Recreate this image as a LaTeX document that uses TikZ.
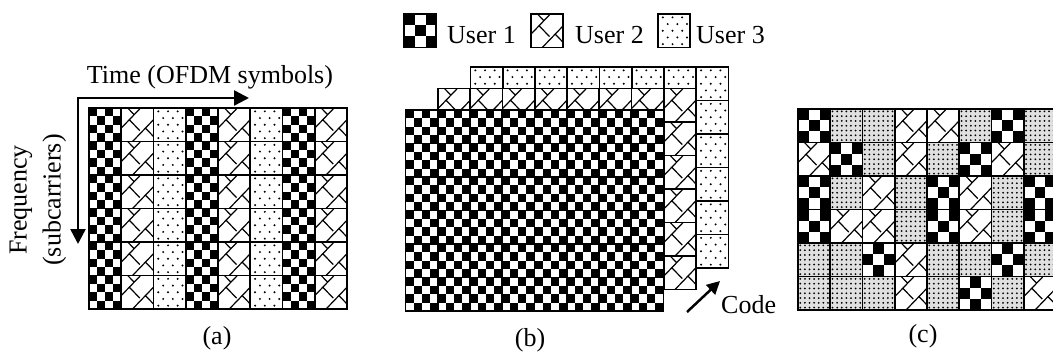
\documentclass[tikz,border=0pt]{standalone}
\usepackage{fontspec}
\setmainfont{Liberation Serif}
\usetikzlibrary{arrows.meta}

\tikzset{
	u1/.pic={\begin{scope}[x=32.25pt, y=-33.5pt]
		\fill[white] (0,0) rectangle (1,1);
		\foreach \i/\j in {0/0,2/0,1/1,3/1,0/2,2/2,1/3,3/3} \fill (\i/4,\j/4) rectangle ++(.25,.25);
	\end{scope}},
	u1x/.pic={\begin{scope}[x=32.25pt, y=-33.5pt]
		\fill[white] (0,0) rectangle (1,1);
		\foreach \i/\j in {0/0,2/0,1/1,0/2,2/2} \fill (\i/3,\j/3) rectangle ++(1/3,1/3);
	\end{scope}},
	u1o/.pic={\begin{scope}[x=32.25pt, y=-33.5pt]
		\fill[white] (0,0) rectangle (1,1);
		\foreach \i/\j in {1/0,0/1,2/1,1/2} \fill (\i/3,\j/3) rectangle ++(1/3,1/3);
	\end{scope}},
	u2/.pic={\begin{scope}[x=32.25pt, y=-33.5pt]
		\fill[white] (0,0) rectangle (1,1);
		\draw[line width=1.2pt] (0,.6) -- (.6,0) (.35,1) -- (1,.35) (.25,.35) -- (.575,.675) (.4,.2) -- (.2,0) (.75,.6) -- (1,.85);
	\end{scope}},
	u3/.pic={\begin{scope}[x=32.25pt, y=-33.5pt]
		\fill[white] (0,0) rectangle (1,1);
		\foreach \yy/\xs in {.1/.15,.3/.3,.5/.15,.7/.3,.9/.15}
			\foreach \k in {0,1,2} \fill (\xs+.3*\k,\yy) circle[radius=1.1pt];
	\end{scope}},
	u3d/.pic={\begin{scope}[x=32.25pt, y=-33.5pt]
		\fill[black!12] (0,0) rectangle (1,1);
		\foreach \i in {0,...,6}
			\foreach \j in {0,...,6} \fill ({(\i+.5)/7},{(\j+.5)/7}) circle[radius=1pt];
	\end{scope}}
}

\begin{document}
\begin{tikzpicture}[x=1pt, y=-1pt, font=\fontsize{26}{34}\selectfont,
	cell/.style={draw, line width=1.8pt, minimum width=32.25pt, minimum height=33.5pt, inner sep=0pt, outer sep=0pt, anchor=north west},
	lbl/.style={inner sep=0pt},
	ar/.style={line width=2.5pt, -{Triangle[length=15pt, width=15pt]}}]
	\useasboundingbox (0,0) rectangle (1053,354);

	% legend
	\pic at (404,14) {u1x};
	\node[cell] (lg1) at (404,14) {};
	\node[lbl, anchor=base west] (lg1t) at (447,43) {User 1};
	\pic at (531,14) {u2};
	\node[cell] (lg2) at (531,14) {};
	\node[lbl, anchor=base west] (lg2t) at (575,43) {User 2};
	\pic at (658,14) {u3};
	\node[cell] (lg3) at (658,14) {};
	\node[lbl, anchor=base west] (lg3t) at (696,43) {User 3};

	% (a)
	\foreach \p [count=\c from 0] in {u1,u2,u3,u1,u2,u3,u1,u2}
		\foreach \r in {0,...,5} {
			\pic at (89+32.25*\c, 108+33.5*\r) {\p};
			\node[cell] (a-\r-\c) at (89+32.25*\c, 108+33.5*\r) {};
		}
	\coordinate (corner) at (78,98);
	\coordinate (tend) at (249,98);
	\coordinate (fend) at (78,244);
	\draw[ar, {Triangle[length=15pt, width=15pt]}-{Triangle[length=15pt, width=15pt]}] (fend) -- (corner) -- (tend);
	\node[lbl, anchor=base] (time) at (210,83) {Time (OFDM symbols)};
	\node[lbl, rotate=90, align=center] (freq) at (38,200) {Frequency\\(subcarriers)};
	\node[lbl, anchor=base] (la) at (217,344) {(a)};

	% (b)
	\foreach \p/\dx/\dy/\l in {u3/470.5/67/3, u2/438/88.5/2, u1/405.5/110/1}
		\foreach \c in {0,...,7}
			\foreach \r in {0,...,5} {
				\pic at (\dx+32.25*\c, \dy+33.5*\r) {\p};
				\node[cell] (b\l-\r-\c) at (\dx+32.25*\c, \dy+33.5*\r) {};
			}
	\coordinate (cs) at (687,312);
	\coordinate (ce) at (720,281);
	\draw[ar, -{Triangle[length=13pt, width=13pt]}] (cs) -- (ce);
	\node[lbl, anchor=base west] (code) at (721,313) {Code};
	\node[lbl, anchor=base] (lb) at (530,346) {(b)};

	% (c)
	\foreach \row [count=\r from 0] in {{u1x,u3d,u3d,u2,u2,u3d,u1x,u3d},{u2,u1x,u3d,u2,u3d,u1x,u2,u3d},{u1x,u3d,u2,u3d,u1x,u2,u3d,u1x},{u1x,u2,u2,u3d,u1x,u2,u3d,u1x},{u3d,u3d,u1o,u2,u3d,u3d,u1o,u3d},{u3d,u3d,u3d,u2,u3d,u1o,u3d,u2}}
		\foreach \p [count=\c from 0] in \row {
			\pic at (798+32.25*\c, 109+33.5*\r) {\p};
			\node[cell] (c-\r-\c) at (798+32.25*\c, 109+33.5*\r) {};
		}
	\node[lbl, anchor=base] (lc) at (923,342) {(c)};
\end{tikzpicture}
\end{document}
